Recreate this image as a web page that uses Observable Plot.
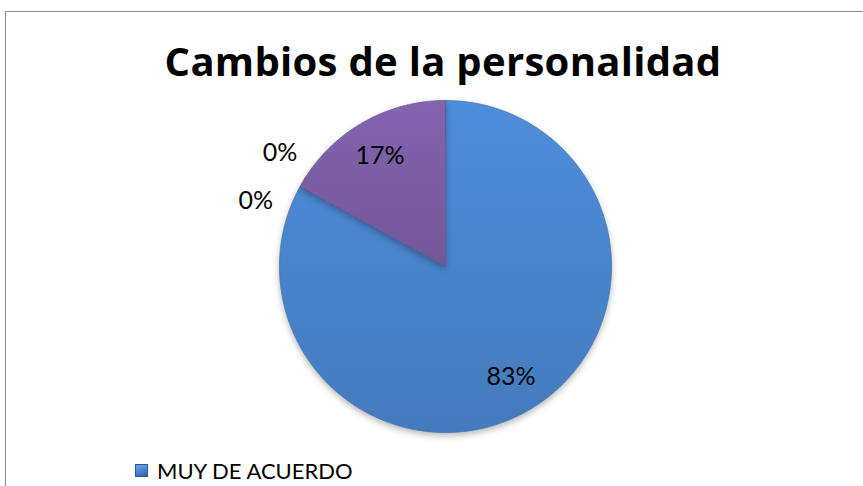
<!DOCTYPE html>
<html>
<head>
<meta charset="utf-8">
<script src="https://cdn.jsdelivr.net/npm/d3@7"></script>
<script src="https://cdn.jsdelivr.net/npm/@observablehq/plot@0.6"></script>
<style>
  body { margin: 0; background: #fff; }
  #wrap { position: relative; width: 863px; height: 486px; overflow: hidden; background: #fff; font-family: Lato, "Open Sans", sans-serif; }
  #frame { position: absolute; left: 5px; top: 11px; width: 900px; height: 520px; border: 1.5px solid #8a8a8a; box-sizing: border-box; }
  #title { position: absolute; left: 0; width: 886px; text-align: center; top: 33px; font-family: "Open Sans", Lato, sans-serif; font-weight: 700; font-size: 40px; letter-spacing: 0.3px; color: #000; white-space: nowrap; }
  #legend { position: absolute; left: 135px; top: 457px; font-size: 22px; color: #000; display: flex; align-items: center; white-space: nowrap; }
  #legend .sw { width: 13px; height: 13px; margin-right: 9px; background: linear-gradient(160deg, #6fa5e6, #2c64ad); border: 1px solid #2b5a98; box-sizing: border-box; }
  #chart { position: absolute; left: 0; top: 0; }
  .pie g[aria-label="line"] { filter: drop-shadow(0px 3px 3px rgba(0,0,0,0.28)); }
</style>
</head>
<body>
<div id="wrap">
  <div id="frame"></div>
  <div id="chart"></div>
  <div id="title">Cambios de la personalidad</div>
  <div id="legend"><span class="sw"></span><span>MUY DE ACUERDO</span></div>
</div>
<script>
// Data
const categories = ["MUY DE ACUERDO", "DE ACUERDO", "EN DESACUERDO", "MUY EN DESACUERDO"];
const values = [83, 0, 0, 17];
const labels = ["83%", "0%", "0%", "17%"];
const colors = ["#4a86cf", "#c0504d", "#9bbb59", "#7d5fa6"];

// Pie geometry (angles clockwise from 12 o'clock)
const total = d3.sum(values);
let acc = 0;
const slices = values.map((v, i) => {
  const a0 = acc / total * 2 * Math.PI;
  acc += v;
  const a1 = acc / total * 2 * Math.PI;
  return { i, cat: categories[i], value: v, a0, a1, label: labels[i], color: colors[i] };
});

function arcPoints(s) {
  const pts = [{ x: 0, y: 0 }];
  const n = Math.max(2, Math.ceil((s.a1 - s.a0) / (Math.PI / 360)));
  for (let k = 0; k <= n; k++) {
    const a = s.a0 + (s.a1 - s.a0) * k / n;
    pts.push({ x: Math.sin(a), y: Math.cos(a) });
  }
  pts.push({ x: 0, y: 0 });
  return pts;
}

// label layout: inside for non-zero slices, outside (spread) for zero slices
const zeroSpread = [0, -0.17, 0.10, 0];
const labelPts = slices.map(s => {
  const mid = (s.a0 + s.a1) / 2 + zeroSpread[s.i];
  const r = s.value > 0 ? 0.775 : 1.21;
  return { x: Math.sin(mid) * r, y: Math.cos(mid) * r, label: s.label };
});

const marks = slices.filter(s => s.value > 0).map(s =>
  Plot.line(arcPoints(s), { x: "x", y: "y", fill: `url(#grad${s.i})`, stroke: d3.color(s.color).darker(0.35).formatHex(), strokeWidth: 0.8, curve: "linear" })
);
marks.push(Plot.text(labelPts, { x: "x", y: "y", text: "label", fontSize: 25, fill: "#000", fontFamily: "Lato, 'Open Sans', sans-serif" }));

const chart = Plot.plot({
  width: 863,
  height: 486,
  marginLeft: 279,
  marginRight: 252,
  marginTop: 100,
  marginBottom: 54,
  x: { domain: [-1, 1], axis: null },
  y: { domain: [-1, 1], axis: null },
  className: "pie",
  style: { background: "transparent", overflow: "visible" },
  marks
});

// gradients giving a light bevel look
const defs = d3.select(chart).insert("defs", ":first-child");
slices.forEach(s => {
  const c = d3.color(s.color);
  const g = defs.append("linearGradient").attr("id", `grad${s.i}`)
    .attr("x1", 0).attr("y1", 0).attr("x2", 0).attr("y2", 1);
  g.append("stop").attr("offset", "0%").attr("stop-color", c.brighter(0.15).formatHex());
  g.append("stop").attr("offset", "100%").attr("stop-color", c.darker(0.25).formatHex());
});
document.getElementById("chart").appendChild(chart);
</script>
</body>
</html>
